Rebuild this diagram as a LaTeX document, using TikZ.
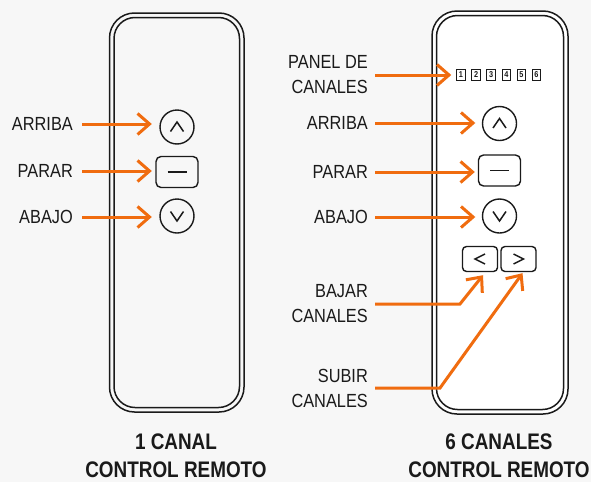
\documentclass[tikz,border=0pt]{standalone}
\usepackage{fontspec}
\setmainfont{Liberation Sans}[FakeStretch=0.86]
\newfontfamily\titlefont{Liberation Sans}[FakeStretch=0.84]
\usetikzlibrary{arrows.meta,calc}
\definecolor{bg}{HTML}{F7F7F7}
\definecolor{org}{HTML}{F06C0F}
\definecolor{ink}{HTML}{1A1A1A}
\begin{document}
\begin{tikzpicture}[x=1pt,y=-1pt,
  shellout/.style={draw=ink,line width=1.5pt,rounded corners=25pt},
  shellin/.style={draw=ink,line width=1.5pt,rounded corners=21pt},
  circbtn/.style={circle,draw=ink,line width=1.4pt,minimum size=34pt,inner sep=0pt},
  stopbtn/.style={rectangle,rounded corners=5pt,draw=ink,line width=1.4pt,minimum width=42pt,minimum height=31pt,inner sep=0pt},
  chbtn/.style={rectangle,rounded corners=4pt,draw=ink,line width=1.4pt,minimum width=35pt,minimum height=25pt,inner sep=0pt},
  chbox/.style={rectangle,draw=ink,line width=1pt,minimum width=8.5pt,minimum height=11pt,inner sep=0pt,text=ink,font=\fontsize{8.5}{8.5}\selectfont\bfseries},
  glyph/.style={draw=ink,line width=1.5pt},
  lab/.style={anchor=east,inner sep=0pt,text=ink,align=right,font=\fontsize{19}{25}\selectfont},
  ttl/.style={inner sep=0pt,text=ink,align=center,font=\titlefont\bfseries\fontsize{22.5}{28}\selectfont},
  arr/.style={draw=org,line width=3pt,line join=miter,-{Straight Barb[length=12pt,width=21pt]}}
]
\useasboundingbox (0,0) rectangle (591,482);
\fill[bg] (0,0) rectangle (591,482);

% ---------- left remote ----------
\draw[shellout] (109.5,13) rectangle (244,412);
\draw[shellin] (114,17.5) rectangle (239.5,407.5);

\node[circbtn] (lu) at (177,127) {};
\node[stopbtn] (ls) at (177,172) {};
\node[circbtn] (ld) at (177,216) {};
\draw[glyph] (lu) ++(-6.5,4.5) -- ++(6.5,-9.5) -- ++(6.5,9.5);
\draw[glyph] (ld) ++(-6.5,-4.5) -- ++(6.5,9.5) -- ++(6.5,-9.5);
\draw[glyph] (ls) ++(-9.5,0) -- ++(19,0);

\node[lab] (la1) at (73,124) {ARRIBA};
\node[lab] (la2) at (73,171) {PARAR};
\node[lab] (la3) at (73,217) {ABAJO};
\draw[arr,shorten <=9pt,shorten >=7.5pt] (la1.east) -- (la1.east -| lu.west);
\draw[arr,shorten <=9pt,shorten >=3.5pt] (la2.east) -- (la2.east -| ls.west);
\draw[arr,shorten <=9pt,shorten >=7.5pt] (la3.east) -- (la3.east -| ld.west);

% ---------- right remote ----------
\draw[shellout,fill=white] (432,11) rectangle (568,414);
\draw[shellin] (436.5,15.5) rectangle (563.5,409.5);

\foreach \i in {1,...,6} {
  \node[chbox] (c\i) at ({461+15.1*(\i-1)},75) {\i};
}
\node[circbtn] (ru) at (499.5,123.5) {};
\node[stopbtn] (rs) at (499.5,170.5) {};
\node[circbtn] (rd) at (499.5,216) {};
\node[chbtn] (rl) at (480,259) {};
\node[chbtn] (rr) at (518.5,259) {};
\draw[glyph] (ru) ++(-6.5,4.5) -- ++(6.5,-9.5) -- ++(6.5,9.5);
\draw[glyph] (rd) ++(-6.5,-4.5) -- ++(6.5,9.5) -- ++(6.5,-9.5);
\draw[glyph] (rs) ++(-9.5,0) -- ++(19,0);
\draw[glyph] (rl) ++(5,-5) -- ++(-10,5) -- ++(10,5);
\draw[glyph] (rr) ++(-5,-5) -- ++(10,5) -- ++(-10,5);

\node[lab] (rb0) at (368,75) {PANEL DE\\CANALES};
\node[lab] (rb1) at (368,123) {ARRIBA};
\node[lab] (rb2) at (368,172) {PARAR};
\node[lab] (rb3) at (368,217) {ABAJO};
\node[lab] (rb4) at (368,304) {BAJAR\\CANALES};
\node[lab] (rb5) at (368,388) {SUBIR\\CANALES};

\draw[arr,shorten <=7pt,shorten >=5pt] (rb0.east) -- (rb0.east -| c1.west);
\draw[arr,shorten <=7pt,shorten >=6.5pt] (rb1.east) -- (rb1.east -| ru.west);
\draw[arr,shorten <=7pt,shorten >=3pt] (rb2.east) -- (rb2.east -| rs.west);
\draw[arr,shorten <=7pt,shorten >=6.5pt] (rb3.east) -- (rb3.east -| rd.west);

\coordinate (k4) at (460,304);
\coordinate (k5) at (440,388);
\draw[arr,shorten <=7pt] (rb4.east) -- (k4) -- ($(rl.south)+(3,3)$);
\draw[arr,shorten <=7pt] (rb5.east) -- (k5) -- ($(rr.south)+(4,1)$);

% ---------- titles ----------
\node[ttl] (t1) at (176,456) {1 CANAL\\CONTROL REMOTO};
\node[ttl] (t2) at (499,456) {6 CANALES\\CONTROL REMOTO};
\end{tikzpicture}
\end{document}
